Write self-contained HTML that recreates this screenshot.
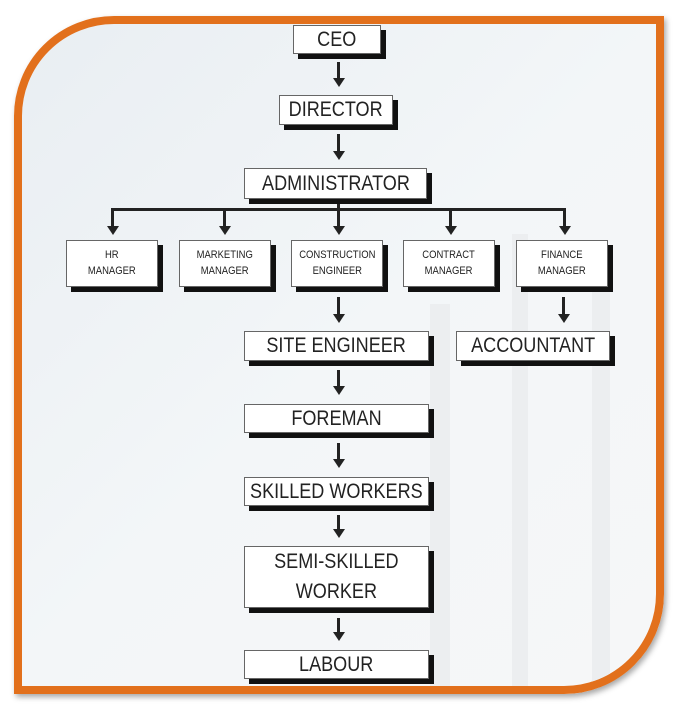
<!DOCTYPE html>
<html><head><style>
html,body{margin:0;padding:0;width:676px;height:710px;background:#fff;overflow:hidden}
.frame{position:absolute;left:14px;top:16px;width:634px;height:662px;border:8px solid #e2701c;border-radius:100px 0 100px 0;background:linear-gradient(135deg,#e9eef2 0%,#f3f6f8 50%,#f6f7f8 100%);box-shadow:2px 3px 6px rgba(0,0,0,.35);overflow:hidden}
.bg{position:absolute;background:#eceef0}
.b{position:absolute;background:#fff;border:1px solid #666;box-shadow:5px 5px 0 #111;font-family:"Liberation Sans Narrow","Liberation Sans",sans-serif;color:#222;text-align:center;display:flex;align-items:center;justify-content:center;box-sizing:border-box;line-height:1.2;white-space:nowrap}
.b span{display:inline-block;transform:scaleX(.86)}
.big{font-size:21px}
.sm{font-size:11px;line-height:1.45}
.v{position:absolute;width:3px;background:#222}
.h{position:absolute;height:3px;background:#222}
.a{position:absolute;width:0;height:0;border-left:6px solid transparent;border-right:6px solid transparent;border-top:9px solid #222}
</style></head><body>
<div class="frame">
<div class="bg" style="left:408px;top:280px;width:20px;height:400px"></div>
<div class="bg" style="left:490px;top:210px;width:16px;height:470px"></div>
<div class="bg" style="left:570px;top:240px;width:18px;height:440px"></div>
</div>

<div class="b big" style="left:293px;top:25px;width:88px;height:29px"><span>CEO</span></div>
<div class="b big" style="left:279px;top:95px;width:114px;height:30px"><span>DIRECTOR</span></div>
<div class="b big" style="left:244px;top:168px;width:183px;height:31px"><span>ADMINISTRATOR</span></div>

<div class="b sm" style="left:66px;top:240px;width:92px;height:47px"><span>HR<br>MANAGER</span></div>
<div class="b sm" style="left:179px;top:240px;width:92px;height:47px"><span>MARKETING<br>MANAGER</span></div>
<div class="b sm" style="left:291px;top:240px;width:92px;height:47px"><span>CONSTRUCTION<br>ENGINEER</span></div>
<div class="b sm" style="left:403px;top:240px;width:92px;height:47px"><span>CONTRACT<br>MANAGER</span></div>
<div class="b sm" style="left:516px;top:240px;width:92px;height:47px"><span>FINANCE<br>MANAGER</span></div>

<div class="b big" style="left:244px;top:331px;width:185px;height:30px"><span>SITE ENGINEER</span></div>
<div class="b big" style="left:456px;top:331px;width:154px;height:30px"><span>ACCOUNTANT</span></div>
<div class="b big" style="left:244px;top:404px;width:185px;height:29px"><span>FOREMAN</span></div>
<div class="b big" style="left:244px;top:477px;width:185px;height:29px"><span>SKILLED WORKERS</span></div>
<div class="b big" style="left:244px;top:546px;width:185px;height:62px;line-height:1.45"><span>SEMI-SKILLED<br>WORKER</span></div>
<div class="b big" style="left:244px;top:650px;width:185px;height:29px"><span>LABOUR</span></div>

<div class="v" style="left:337px;top:62px;height:17px"></div><div class="a" style="left:333px;top:78px"></div>
<div class="v" style="left:337px;top:134px;height:18px"></div><div class="a" style="left:333px;top:151px"></div>
<div class="v" style="left:337px;top:204px;height:6px"></div>
<div class="h" style="left:111px;top:208px;width:455px"></div>
<div class="v" style="left:111px;top:208px;height:19px"></div><div class="a" style="left:107px;top:226px"></div>
<div class="v" style="left:223px;top:208px;height:19px"></div><div class="a" style="left:219px;top:226px"></div>
<div class="v" style="left:337px;top:208px;height:19px"></div><div class="a" style="left:333px;top:226px"></div>
<div class="v" style="left:449px;top:208px;height:19px"></div><div class="a" style="left:445px;top:226px"></div>
<div class="v" style="left:563px;top:208px;height:19px"></div><div class="a" style="left:559px;top:226px"></div>

<div class="v" style="left:337px;top:297px;height:18px"></div><div class="a" style="left:333px;top:314px"></div>
<div class="v" style="left:562px;top:297px;height:18px"></div><div class="a" style="left:558px;top:314px"></div>
<div class="v" style="left:337px;top:370px;height:17px"></div><div class="a" style="left:333px;top:386px"></div>
<div class="v" style="left:337px;top:443px;height:17px"></div><div class="a" style="left:333px;top:459px"></div>
<div class="v" style="left:337px;top:515px;height:15px"></div><div class="a" style="left:333px;top:529px"></div>
<div class="v" style="left:337px;top:618px;height:15px"></div><div class="a" style="left:333px;top:632px"></div>
</body></html>
